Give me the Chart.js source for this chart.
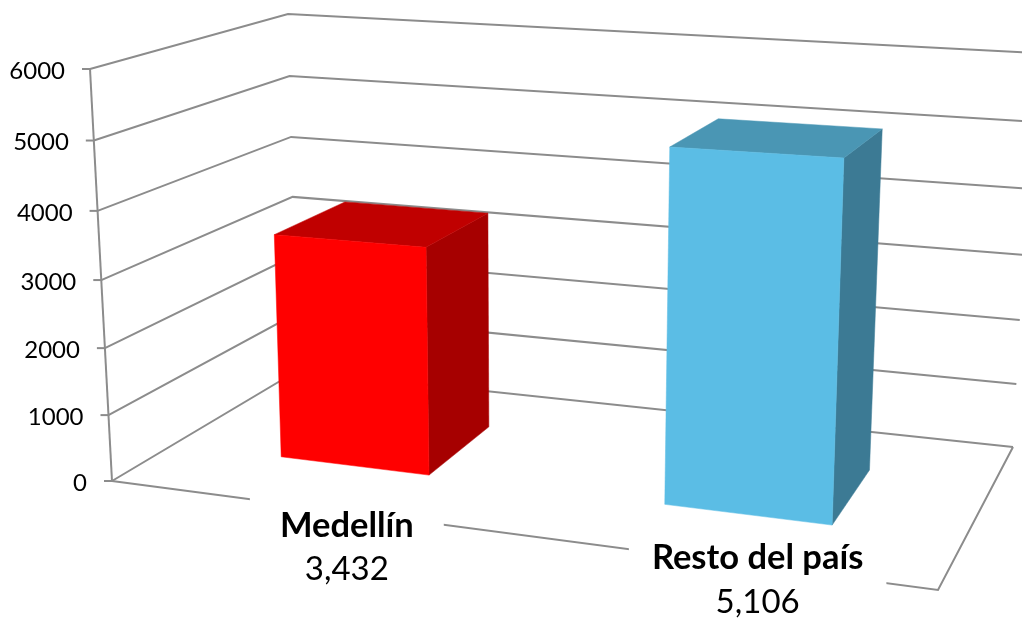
<!DOCTYPE html>
<html>
<head>
<meta charset="utf-8">
<script src="https://cdn.jsdelivr.net/npm/chart.js@4"></script>
<style>
  html, body { margin: 0; padding: 0; background: #fff; overflow: hidden; }
  canvas { display: block; }
</style>
</head>
<body>
<canvas id="chart" width="1022" height="619"></canvas>
<script>
const categories = ['Medellín', 'Resto del país'];
const values = [3432, 5106];
const axisMax = 6000;
const axisStep = 1000;

// bar face colours: front, top, side
const frontColors = ['#ff0000', '#5bbde5'];
const topColors = ['#c00000', '#4a96b4'];
const sideColors = ['#a60000', '#3c7a94'];
const gridColor = '#8c8c8c';

// ── 3D box corners on the page (bottom / top, front / back, left / right) ──
const BOX = {
  fl0: [112, 481], fl1: [90, 69],
  fr0: [938, 590], fr1: [958, 114],
  bl0: [297, 371], bl1: [288, 14],
  br0: [1013, 447], br1: [1034, 53],
};
const DEPTH_FRONT = 0.34, DEPTH_BACK = 0.74;
const PERSP = 0.883;       // foreshortening along the category axis
const PERSP_V = 0.952;     // foreshortening up the value axis
const BAR_SQUASH = 0.99;   // bars sit a bit short of the wall scale in depth

// label offsets from the point under each bar on the front floor edge
const labelOffsets = [[47, 20], [46, -2]];
const labelGaps = [60, 46];

function lerp(a, b, t) { return a + (b - a) * t; }

function project(u, v, w) {
  const out = [0, 1].map(i => {
    const bottom = lerp(lerp(BOX.fl0[i], BOX.fr0[i], u), lerp(BOX.bl0[i], BOX.br0[i], u), w);
    const top = lerp(lerp(BOX.fl1[i], BOX.fr1[i], u), lerp(BOX.bl1[i], BOX.br1[i], u), w);
    return lerp(bottom, top, v);
  });
  return out;
}

function skewU(u) { return PERSP * u / (1 + (PERSP - 1) * u); }
function skewV(v) { return PERSP_V * v / (1 + (PERSP_V - 1) * v); }

function poly(ctx, pts, fill) {
  ctx.beginPath();
  pts.forEach((p, i) => i ? ctx.lineTo(p[0], p[1]) : ctx.moveTo(p[0], p[1]));
  ctx.closePath();
  ctx.fillStyle = fill;
  ctx.fill();
  ctx.strokeStyle = fill;
  ctx.lineWidth = 0.5;
  ctx.stroke();
}

function line(ctx, pts) {
  ctx.beginPath();
  pts.forEach((p, i) => i ? ctx.lineTo(p[0], p[1]) : ctx.moveTo(p[0], p[1]));
  ctx.stroke();
}

const box3d = {
  id: 'box3d',
  afterDraw(chart) {
    const { ctx, chartArea: area, scales } = chart;
    const yScale = scales.y;
    const toV = val => skewV((area.bottom - yScale.getPixelForValue(val)) / area.height);
    ctx.save();

    // walls and floor
    ctx.strokeStyle = gridColor;
    ctx.lineWidth = 2;
    ctx.lineJoin = 'miter';
    yScale.ticks.forEach(t => {
      const v = toV(t.value);
      line(ctx, [project(0, v, 0), project(0, v, 1), project(1, v, 1)]);
      const p = project(0, v, 0);
      line(ctx, [[p[0] - 8, p[1]], p]);
    });
    line(ctx, [project(0, 0, 0), project(0, 1, 0)]);
    line(ctx, [project(0, 0, 0), project(1, 0, 0), project(1, 0, 1)]);

    // tick labels follow the slanted axis
    ctx.fillStyle = '#000';
    ctx.font = '24px Lato';
    ctx.textAlign = 'right';
    ctx.textBaseline = 'middle';
    yScale.ticks.forEach(t => {
      const p = project(0, toV(t.value), 0);
      ctx.fillText(String(t.value), p[0] - 25, p[1] + 2);
    });

    // bars
    chart.getDatasetMeta(0).data.forEach((bar, i) => {
      const u0 = skewU((bar.x - bar.width / 2 - area.left) / area.width);
      const u1 = skewU((bar.x + bar.width / 2 - area.left) / area.width);
      const v = skewV((bar.base - bar.y) / area.height) * BAR_SQUASH;
      const a = DEPTH_FRONT, b = DEPTH_BACK;
      poly(ctx, [project(u1, 0, a), project(u1, 0, b), project(u1, v, b), project(u1, v, a)], sideColors[i]);
      poly(ctx, [project(u0, v, a), project(u1, v, a), project(u1, v, b), project(u0, v, b)], topColors[i]);
      poly(ctx, [project(u0, 0, a), project(u1, 0, a), project(u1, v, a), project(u0, v, a)], frontColors[i]);
    });

    // data labels on a white box that cuts the floor edge
    ctx.textAlign = 'center';
    chart.getDatasetMeta(0).data.forEach((bar, i) => {
      const p = project(skewU((bar.x - area.left) / area.width), 0, 0);
      const cx = p[0] + labelOffsets[i][0], cy = p[1] + labelOffsets[i][1];
      ctx.font = 'bold 34.5px Lato';
      const w = ctx.measureText(categories[i]).width;
      ctx.fillStyle = '#fff';
      ctx.fillRect(cx - w / 2 - labelGaps[i] / 2, cy - 28, w + labelGaps[i], 76);
      ctx.fillStyle = '#000';
      ctx.fillText(categories[i], cx, cy);
      ctx.font = '33px Lato';
      ctx.fillText(values[i].toLocaleString('en-US'), cx, cy + 44);
    });
    ctx.restore();
  }
};

new Chart(document.getElementById('chart'), {
  type: 'bar',
  data: {
    labels: categories,
    datasets: [{ data: values, backgroundColor: 'transparent', barPercentage: 1, categoryPercentage: 0.4 }],
  },
  options: {
    responsive: false,
    animation: false,
    layout: { padding: { left: 112, right: 84, top: 69, bottom: 138 } },
    plugins: { legend: { display: false }, tooltip: { enabled: false } },
    scales: {
      x: { display: false },
      y: { display: false, min: 0, max: axisMax, ticks: { stepSize: axisStep } },
    },
  },
  plugins: [box3d],
});
</script>
</body>
</html>
